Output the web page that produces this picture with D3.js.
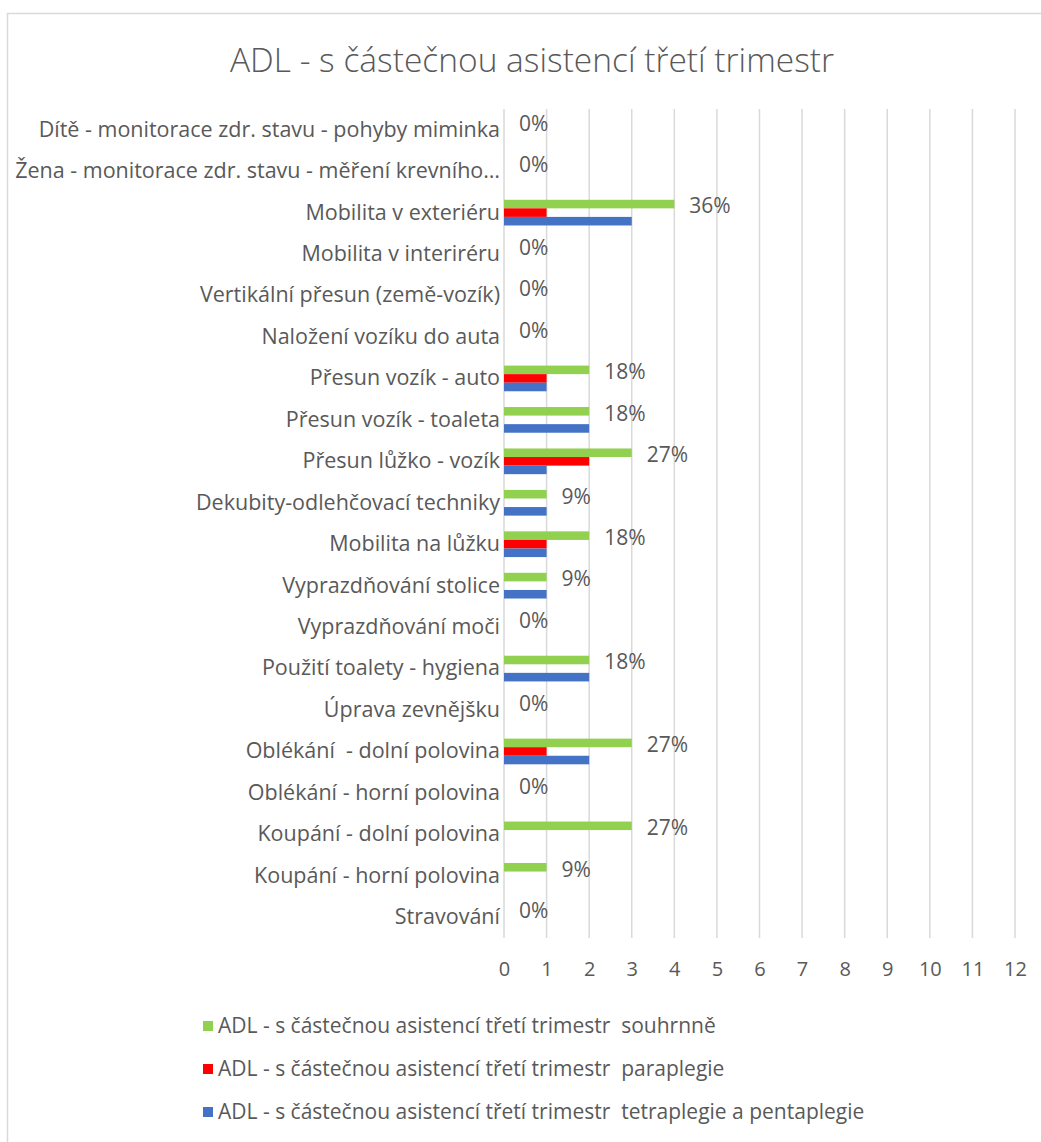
<!DOCTYPE html>
<html>
<head>
<meta charset="utf-8">
<script src="https://cdn.jsdelivr.net/npm/d3@7"></script>
<style>
  body { margin: 0; background: #fff; }
  svg { display: block; font-family: "Open Sans", "Noto Sans", sans-serif; }
  text { white-space: pre; }
</style>
</head>
<body>
<div id="viz"></div>
<script>
const categories = [
  "Dítě - monitorace zdr. stavu - pohyby miminka",
  "Žena - monitorace zdr. stavu - měření krevního…",
  "Mobilita v exteriéru",
  "Mobilita v interiréru",
  "Vertikální přesun (země-vozík)",
  "Naložení vozíku do auta",
  "Přesun vozík - auto",
  "Přesun vozík - toaleta",
  "Přesun lůžko - vozík",
  "Dekubity-odlehčovací techniky",
  "Mobilita na lůžku",
  "Vyprazdňování stolice",
  "Vyprazdňování moči",
  "Použití toalety - hygiena",
  "Úprava zevnějšku",
  "Oblékání  - dolní polovina",
  "Oblékání - horní polovina",
  "Koupání - dolní polovina",
  "Koupání - horní polovina",
  "Stravování"
];
const souhrnne   = [0, 0, 4, 0, 0, 0, 2, 2, 3, 1, 2, 1, 0, 2, 0, 3, 0, 3, 1, 0];
const paraplegie = [0, 0, 1, 0, 0, 0, 1, 0, 2, 0, 1, 0, 0, 0, 0, 1, 0, 0, 0, 0];
const tetraplegie = [0, 0, 3, 0, 0, 0, 1, 2, 1, 1, 1, 1, 0, 2, 0, 2, 0, 0, 0, 0];
const percentLabels = ["0%", "0%", "36%", "0%", "0%", "0%", "18%", "18%", "27%", "9%", "18%", "9%", "0%", "18%", "0%", "27%", "0%", "27%", "9%", "0%"];
const xTicks = [0, 1, 2, 3, 4, 5, 6, 7, 8, 9, 10, 11, 12];

const seriesNames = [
  "ADL - s částečnou asistencí třetí trimestr  souhrnně",
  "ADL - s částečnou asistencí třetí trimestr  paraplegie",
  "ADL - s částečnou asistencí třetí trimestr  tetraplegie a pentaplegie"
];
const seriesValues = [souhrnne, paraplegie, tetraplegie];
const colors = ["#92d050", "#ff0000", "#4472c4"];

const W = 1041, H = 1142;
const textColor = "#595959";

const svg = d3.select("#viz").append("svg")
  .attr("width", W)
  .attr("height", H);

svg.append("rect")
  .attr("x", 7.5).attr("y", 13.5)
  .attr("width", W + 20).attr("height", H + 20)
  .attr("fill", "#fff")
  .attr("stroke", "#d9d9d9")
  .attr("stroke-width", 1.5);

svg.append("text")
  .attr("x", 532)
  .attr("y", 72)
  .attr("text-anchor", "middle")
  .attr("fill", textColor)
  .style("font-size", "33.5px")
  .style("font-weight", 300)
  .text("ADL - s částečnou asistencí třetí trimestr");

const plot = {left: 504, right: 1015, top: 109, bottom: 938};

const x = d3.scaleLinear()
  .domain([0, 12])
  .range([plot.left, plot.right]);

const y = d3.scaleBand()
  .domain(categories)
  .range([plot.top, plot.bottom]);

const groupW = y.bandwidth() * 0.62;
const ySub = d3.scaleBand()
  .domain(d3.range(3))
  .range([(y.bandwidth() - groupW) / 2, (y.bandwidth() + groupW) / 2]);

// vertical gridlines
svg.append("g")
  .selectAll("line")
  .data(xTicks)
  .join("line")
    .attr("x1", d => x(d)).attr("x2", d => x(d))
    .attr("y1", plot.top).attr("y2", plot.bottom)
    .attr("stroke", "#d9d9d9")
    .attr("stroke-width", 1.5);

// x axis labels
const xAxis = svg.append("g")
  .attr("transform", `translate(0,${plot.bottom})`)
  .call(d3.axisBottom(x).tickValues(xTicks).tickSize(0).tickPadding(24));
xAxis.select(".domain").remove();
xAxis.selectAll("text")
  .attr("fill", textColor)
  .style("font-size", "20px")
  .style("font-family", "'Open Sans', sans-serif");

// category labels
const yAxis = svg.append("g")
  .attr("transform", `translate(${plot.left},0)`)
  .call(d3.axisLeft(y).tickSize(0).tickPadding(4));
yAxis.select(".domain").remove();
yAxis.selectAll("text")
  .attr("fill", textColor)
  .style("font-size", "21.5px")
  .style("font-family", "'Open Sans', sans-serif");

// bars
seriesValues.forEach((vals, s) => {
  svg.append("g")
    .selectAll("rect")
    .data(vals)
    .join("rect")
      .attr("x", x(0))
      .attr("y", (d, i) => y(categories[i]) + ySub(s))
      .attr("width", d => x(d) - x(0))
      .attr("height", ySub.bandwidth())
      .attr("fill", colors[s]);
});

// data labels for souhrnně
svg.append("g")
  .selectAll("text")
  .data(souhrnne)
  .join("text")
    .attr("x", d => x(d) + 15)
    .attr("y", (d, i) => y(categories[i]) + ySub(0) + ySub.bandwidth() / 2 + 2)
    .attr("dy", "0.35em")
    .attr("fill", textColor)
    .style("font-size", "21px")
    .text((d, i) => percentLabels[i]);

// legend
const legend = svg.append("g");
seriesNames.forEach((name, i) => {
  const ly = 1026 + i * 43;
  legend.append("rect")
    .attr("x", 203).attr("y", ly - 5)
    .attr("width", 10).attr("height", 10)
    .attr("fill", colors[i]);
  legend.append("text")
    .attr("x", 218)
    .attr("y", ly)
    .attr("dy", "0.35em")
    .attr("fill", textColor)
    .style("font-size", "21px")
    .text(name);
});
</script>
</body>
</html>
